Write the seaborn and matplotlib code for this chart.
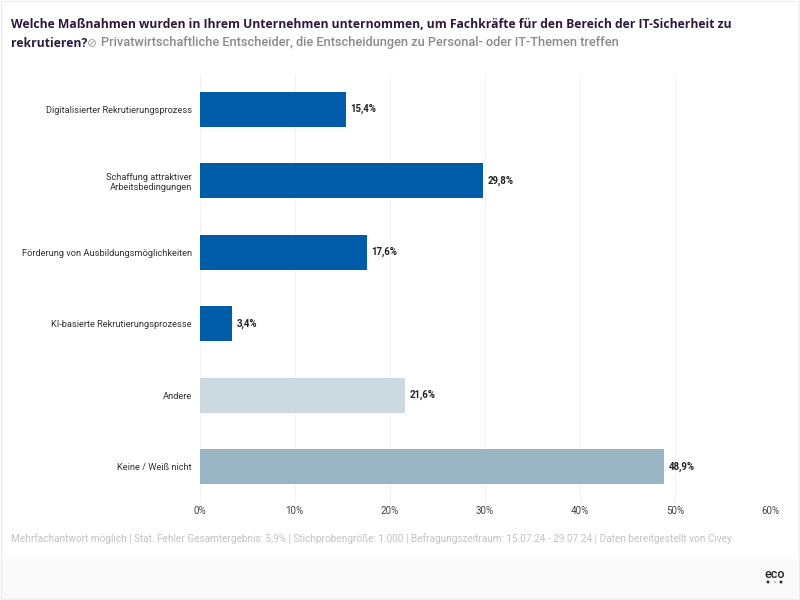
import matplotlib
matplotlib.use('Agg')
import matplotlib.pyplot as plt
from matplotlib.patches import Ellipse
import pandas as pd
import seaborn as sns

categories = ['Digitalisierter Rekrutierungsprozess',
              'Schaffung attraktiver\nArbeitsbedingungen',
              'Förderung von Ausbildungsmöglichkeiten',
              'KI-basierte Rekrutierungsprozesse',
              'Andere',
              'Keine / Weiß nicht']
values = [15.4, 29.8, 17.6, 3.4, 21.6, 48.9]
value_labels = ['15,4%', '29,8%', '17,6%', '3,4%', '21,6%', '48,9%']
bar_colors = ['#005ca9', '#005ca9', '#005ca9', '#005ca9', '#cdd9e0', '#99b4c2']
x_ticks = [0, 10, 20, 30, 40, 50, 60]

df = pd.DataFrame({'Kategorie': categories, 'Wert': values})

sns.set_theme(style='white')
plt.rcParams['font.family'] = ['Roboto', 'DejaVu Sans']

fig = plt.figure(figsize=(8, 6), dpi=100, facecolor='white')
ax = fig.add_axes([199.5 / 800, 1 - 502.5 / 600, 570.5 / 800, 429 / 600])

sns.barplot(data=df, y='Kategorie', x='Wert', hue='Kategorie', palette=bar_colors,
            legend=False, width=0.49, saturation=1, linewidth=0, ax=ax, zorder=3)

ax.set_xlim(0, 60)
ax.set_xticks(x_ticks)
ax.set_xticklabels([f'{t}%' for t in x_ticks], fontsize=7.1, color='#444444')
ax.set_xlabel('')
ax.set_ylabel('')
ax.grid(axis='x', color='#f3f3f3', lw=0.8, zorder=0)
ax.tick_params(axis='x', length=0, pad=2.5)
ax.tick_params(axis='y', length=0, pad=5.4, labelsize=6.7, labelcolor='#333333')
for lab in ax.get_yticklabels():
    lab.set_multialignment('right')
sns.despine(ax=ax, left=True, bottom=True)

for bar, lab in zip(ax.containers, value_labels):
    ax.bar_label(bar, labels=[lab], padding=3.4, fontsize=6.9, fontweight='bold', color='#222222')

# header
title_font = dict(fontsize=8.7, fontweight='bold', family='Open Sans', color='#2a1a3e', va='center')
fig.text(11 / 800, 1 - 24 / 600, 'Welche Maßnahmen wurden in Ihrem Unternehmen unternommen, um Fachkräfte für den Bereich der IT-Sicherheit zu',
         **title_font)
fig.text(11 / 800, 1 - 43.5 / 600, 'rekrutieren?', **title_font)
fig.text(101 / 800, 1 - 42.5 / 600, 'Privatwirtschaftliche Entscheider, die Entscheidungen zu Personal- oder IT-Themen treffen',
         fontsize=9.2, fontweight='medium', color='#8a8a8e', va='center')
fig.text(92 / 800, 1 - 43.5 / 600, '⊘', fontsize=8.5, family='DejaVu Sans', color='#9a9a9a', ha='center', va='center')

# footnote
fig.text(11 / 800, 1 - 539 / 600, 'Mehrfachantwort möglich | Stat. Fehler Gesamtergebnis: 5,9% | Stichprobengröße: 1.000 | Befragungszeitraum: 15.07.24 - 29.07.24 | Daten bereitgestellt von Civey',
         fontsize=7.2, color='#c2c2c2', va='center')

# footer band with logo
fig.patches.append(plt.Rectangle((0, 0), 1, 41 / 600, transform=fig.transFigure,
                                 facecolor='#fafafa', edgecolor='none', zorder=-1))
fig.patches.append(plt.Rectangle((1 / 800, 1 / 600), 798 / 800, 598 / 600, transform=fig.transFigure,
                                 facecolor='none', edgecolor='#eeeeee', lw=1, zorder=-1))
fig.text(775 / 800, 1 - 575 / 600, 'eco', fontsize=9, fontweight='medium', color='#222222', ha='center', va='center')
for px, size, col in [(768, 3, '#333333'), (775, 2, '#e6a5a5'), (781, 3, '#333333')]:
    fig.patches.append(Ellipse((px / 800, 1 - 582 / 600), size / 800, size / 600,
                               transform=fig.transFigure, facecolor=col, edgecolor='none'))

fig.savefig('out.png', dpi=100)
